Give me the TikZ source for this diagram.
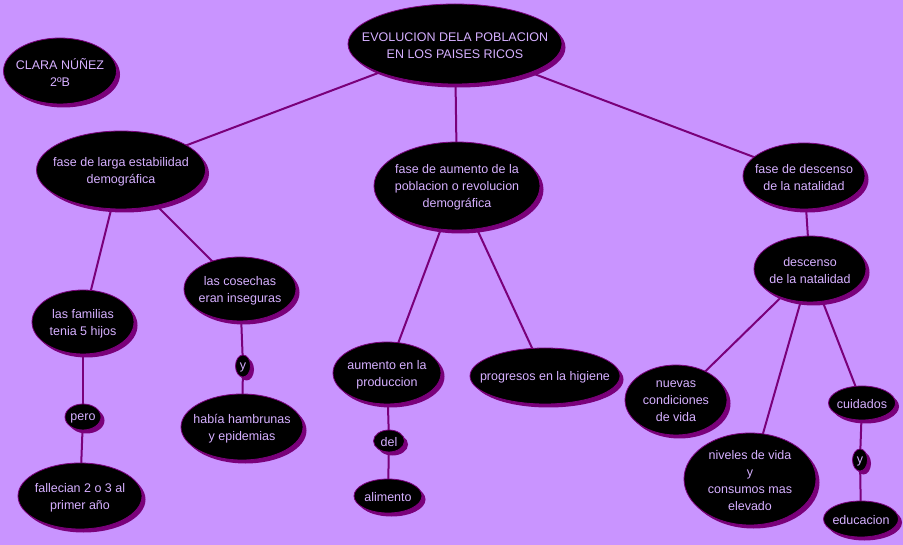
\documentclass[tikz,border=0pt]{standalone}
\usepackage{fontspec}
\setmainfont{Liberation Sans}
\usetikzlibrary{shapes.geometric,shadows}
\definecolor{bgc}{HTML}{C994FF}
\definecolor{purp}{HTML}{7A007A}
\definecolor{txt}{HTML}{D6B0FF}
\pgfdeclarelayer{back}
\pgfdeclarelayer{bg}
\pgfsetlayers{back,bg,main}
\tikzset{
  bubble/.style={ellipse, fill=black, draw=purp, line width=0.8pt, inner sep=0pt,
    drop shadow={shadow xshift=3.5pt, shadow yshift=-3.5pt, fill=purp, opacity=1}},
  txtlab/.style={text=txt, align=center, inner sep=0pt, yshift=-1.5pt, font=\fontsize{12.5}{17}\selectfont},
  link/.style={draw=purp, line width=2pt}
}
\begin{document}
\begin{tikzpicture}[x=1pt,y=-1pt]
\begin{pgfonlayer}{back}
\fill[bgc] (0,0) rectangle (903,545);
\end{pgfonlayer}
\useasboundingbox (0,0) rectangle (903,545);
\node[bubble, minimum width=214pt, minimum height=80pt, label={[txtlab]center:{EVOLUCION DELA POBLACION\\EN LOS PAISES RICOS}}] (title) at (455,44) {};
\node[bubble, minimum width=113pt, minimum height=66pt, label={[txtlab]center:{CLARA NÚÑEZ\\2ºB}}] (clara) at (60,71) {};
\node[bubble, minimum width=169pt, minimum height=78pt, label={[txtlab]center:{fase de larga estabilidad\\demográfica}}] (larga) at (121,170) {};
\node[bubble, minimum width=166pt, minimum height=88pt, label={[txtlab]center:{fase de aumento de la\\poblacion o revolucion\\demográfica}}] (aumento) at (457,186) {};
\node[bubble, minimum width=122pt, minimum height=66pt, label={[txtlab]center:{fase de descenso\\de la natalidad}}] (desc) at (804,176) {};
\node[bubble, minimum width=112pt, minimum height=66pt, label={[txtlab]center:{descenso\\de la natalidad}}] (desc2) at (810,269) {};
\node[bubble, minimum width=112pt, minimum height=64pt, label={[txtlab]center:{las cosechas\\eran inseguras}}] (cosechas) at (240,289) {};
\node[bubble, minimum width=102pt, minimum height=64pt, label={[txtlab]center:{las familias\\tenia 5 hijos}}] (familias) at (83,322) {};
\node[bubble, minimum width=15pt, minimum height=22pt, label={[txtlab]center:{y}}] (y1) at (243,366) {};
\node[bubble, minimum width=36pt, minimum height=26pt, label={[txtlab]center:{pero}}] (pero) at (83,417) {};
\node[bubble, minimum width=122pt, minimum height=66pt, label={[txtlab]center:{había hambrunas\\y epidemias}}] (hambre) at (242,427) {};
\node[bubble, minimum width=124pt, minimum height=66pt, label={[txtlab]center:{fallecian 2 o 3 al\\primer año}}] (fallec) at (80,496) {};
\node[bubble, minimum width=108pt, minimum height=62pt, label={[txtlab]center:{aumento en la\\produccion}}] (prod) at (387,373) {};
\node[bubble, minimum width=150pt, minimum height=56pt, label={[txtlab]center:{progresos en la higiene}}] (higiene) at (545,376) {};
\node[bubble, minimum width=31pt, minimum height=22pt, label={[txtlab]center:{del}}] (del) at (389,441) {};
\node[bubble, minimum width=68pt, minimum height=34pt, label={[txtlab]center:{alimento}}] (alim) at (388,496) {};
\node[bubble, minimum width=102pt, minimum height=70pt, label={[txtlab]center:{nuevas\\condiciones\\de vida}}] (nuevas) at (676,400) {};
\node[bubble, minimum width=132pt, minimum height=92pt, label={[txtlab]center:{niveles de vida\\y\\consumos mas\\elevado}}] (niveles) at (750,479) {};
\node[bubble, minimum width=67pt, minimum height=34pt, label={[txtlab]center:{cuidados}}] (cuid) at (862,403) {};
\node[bubble, minimum width=15pt, minimum height=22pt, label={[txtlab]center:{y}}] (y2) at (860,460) {};
\node[bubble, minimum width=75pt, minimum height=36pt, label={[txtlab]center:{educacion}}] (educ) at (861,519) {};
\begin{pgfonlayer}{bg}
\draw[link] (title.center) -- (larga.center);
\draw[link] (title.center) -- (aumento.center);
\draw[link] (title.center) -- (desc.center);
\draw[link] (larga.center) -- (familias.center);
\draw[link] (larga.center) -- (cosechas.center);
\draw[link] (familias.center) -- (pero.center);
\draw[link] (pero.center) -- (fallec.center);
\draw[link] (cosechas.center) -- (y1.center);
\draw[link] (y1.center) -- (hambre.center);
\draw[link] (aumento.center) -- (prod.center);
\draw[link] (aumento.center) -- (higiene.center);
\draw[link] (prod.center) -- (del.center);
\draw[link] (del.center) -- (alim.center);
\draw[link] (desc.center) -- (desc2.center);
\draw[link] (desc2.center) -- (nuevas.center);
\draw[link] (desc2.center) -- (niveles.center);
\draw[link] (desc2.center) -- (cuid.center);
\draw[link] (cuid.center) -- (y2.center);
\draw[link] (y2.center) -- (educ.center);
\end{pgfonlayer}
\end{tikzpicture}
\end{document}
